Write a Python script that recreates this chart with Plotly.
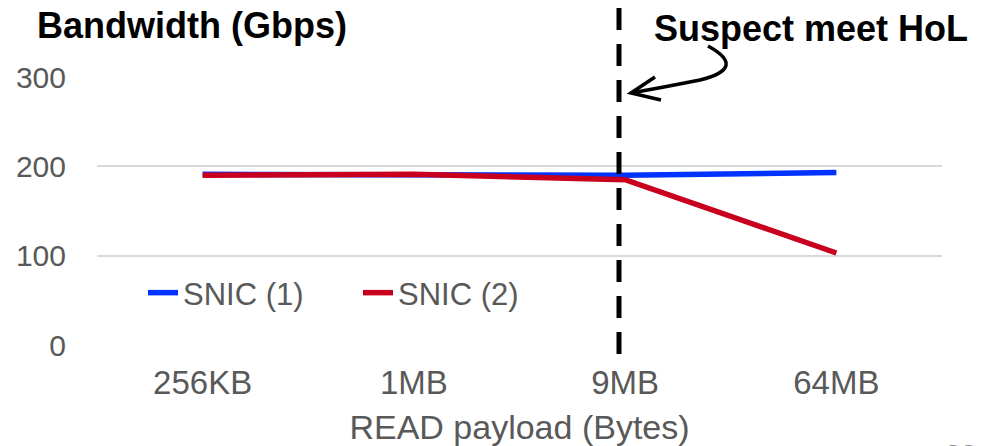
import plotly.graph_objects as go

categories = ["256KB", "1MB", "9MB", "64MB"]
snic1 = [191, 191, 190, 193]
snic2 = [190, 191, 185, 103]
y_ticks = [0, 100, 200, 300]

W, H = 991, 446
ML, MR, MT, MB = 97, 49, 77, 101
PW, PH = W - ML - MR, H - MT - MB

def px(x):
    return (x - ML) / PW

def py(y):
    return (H - MB - y) / PH

FONT = "Arial, Liberation Sans, sans-serif"
GRAY = "#595959"

fig = go.Figure()
fig.add_trace(go.Scatter(x=categories, y=snic1, mode="lines", name="SNIC (1)",
                         line=dict(color="#0033FF", width=5.5)))
fig.add_trace(go.Scatter(x=categories, y=snic2, mode="lines", name="SNIC (2)",
                         line=dict(color="#C8001E", width=5.5)))

# vertical dashed marker line
fig.add_shape(type="line", xref="paper", yref="paper",
              x0=px(619), x1=px(619), y0=py(8), y1=py(360),
              line=dict(color="black", width=5, dash="22px,14px"))

# curved arrow
path = (f"M {px(708)},{py(46)} Q {px(748)},{py(68)} {px(700)},{py(80)} "
        f"Q {px(665)},{py(87)} {px(631)},{py(93)}")
fig.add_shape(type="path", xref="paper", yref="paper", path=path,
              line=dict(color="black", width=3.5))
head = f"M {px(655)},{py(77)} L {px(631)},{py(93)} L {px(661)},{py(100)}"
fig.add_shape(type="path", xref="paper", yref="paper", path=head,
              line=dict(color="black", width=3.5))

fig.add_annotation(text="<b>Suspect meet HoL</b>", xref="paper", yref="paper",
                   x=px(811), y=py(28), xanchor="center", yanchor="middle",
                   showarrow=False, font=dict(family=FONT, size=36, color="black"))
fig.add_annotation(text="<b>Bandwidth (Gbps)</b>", xref="paper", yref="paper",
                   x=px(192), y=py(25), xanchor="center", yanchor="middle",
                   showarrow=False, font=dict(family=FONT, size=36, color="black"))
fig.add_annotation(text="32", xref="paper", yref="paper",
                   x=px(960), y=py(437), xanchor="center", yanchor="top", showarrow=False,
                   font=dict(family=FONT, size=28, color="#898989"))

fig.update_layout(
    width=W, height=H,
    margin=dict(l=ML, r=MR, t=MT, b=MB, autoexpand=False),
    paper_bgcolor="white", plot_bgcolor="white",
    font=dict(family=FONT, size=28, color=GRAY),
    showlegend=True,
    legend=dict(orientation="h", x=px(143), y=py(293), xanchor="left", yanchor="middle",
                bgcolor="rgba(0,0,0,0)", font=dict(size=31, color=GRAY),
                itemwidth=30, entrywidth=170, tracegroupgap=0),
    xaxis=dict(type="category", range=[-0.5, 3.5], showgrid=False, zeroline=False,
               showline=False, ticks="", tickfont=dict(size=33, color=GRAY),
               ticklabelstandoff=15, automargin=False,
               title=dict(text="READ payload (Bytes)", font=dict(size=34, color=GRAY),
                          standoff=16)),
    yaxis=dict(range=[0, 300], tickvals=y_ticks, showgrid=True, gridcolor="#D9D9D9",
               gridwidth=2, zeroline=False, showline=False, ticks="", automargin=False,
               tickfont=dict(size=30, color=GRAY), ticklabelstandoff=30),
)

fig.write_html("out.html", config={"displayModeBar": False},
               post_script="document.body.style.margin='0px';")
